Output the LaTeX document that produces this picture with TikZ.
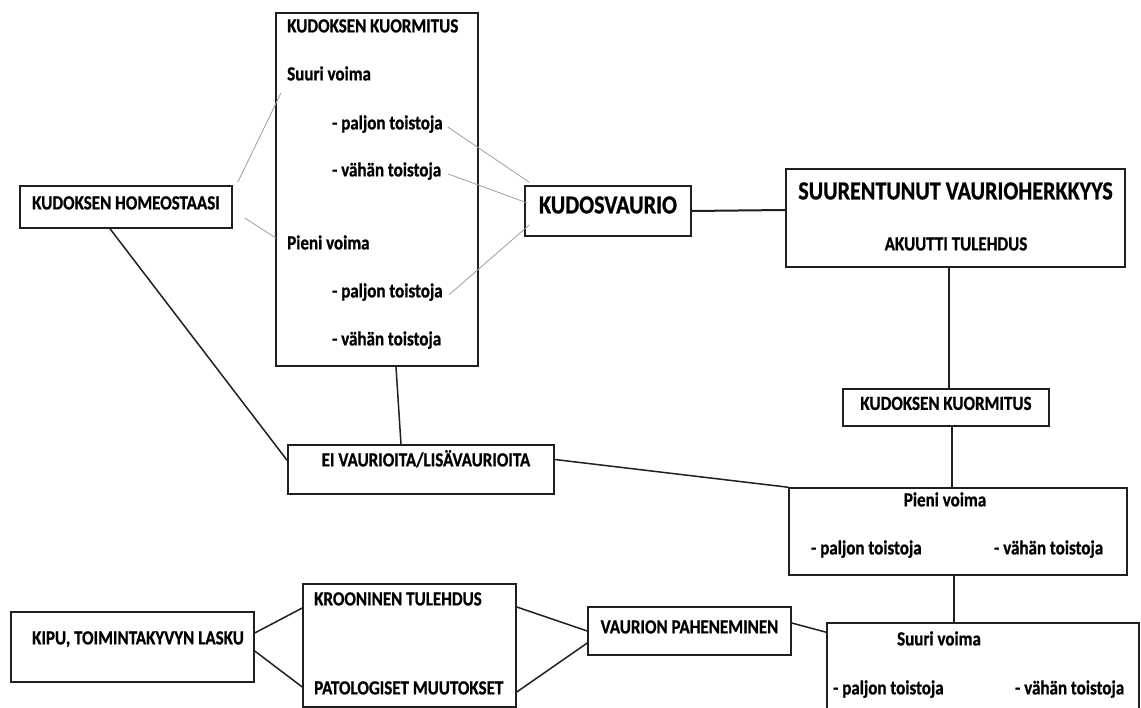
\documentclass[tikz,border=0pt]{standalone}
\usepackage{fontspec}
\setmainfont{Carlito}[FakeStretch=0.85,BoldFeatures={FakeBold=0.8}]
\definecolor{kline}{gray}{0.12}
\definecolor{kthin}{gray}{0.62}
\newcommand{\bigtxt}{\fontsize{26}{30}\selectfont}

\begin{document}
\begin{tikzpicture}[x=1pt,y=-1pt,font=\fontsize{20}{24}\selectfont\bfseries,
  box/.style 2 args={draw=kline,line width=1.5pt,inner sep=0pt,minimum width=#1pt,minimum height=#2pt,text height=0.62em,text depth=0.14em},
  txt/.style={inner sep=0pt,text height=0.62em,text depth=0.14em},
  link/.style={kline,line width=1.5pt},
  thin/.style={kthin,line width=0.8pt}]
  \useasboundingbox (0,0) rectangle (1141,708);
  \clip (0,0) rectangle (1141,708);

  % left part
  \node[box={212}{42}] (homeo) at (126,207) {KUDOKSEN HOMEOSTAASI};
  \node[box={202}{353}] (list) at (377,189.5) {};
  \node[txt,anchor=west] (listhead) at (287,30) {KUDOKSEN KUORMITUS};
  \node[txt,anchor=west] (suuri) at (287,78) {Suuri voima};
  \node[txt,anchor=west] (suuripal) at (332,127) {- paljon toistoja};
  \node[txt,anchor=west] (suurivah) at (332,174) {- vähän toistoja};
  \node[txt,anchor=west] (pieni) at (287,247) {Pieni voima};
  \node[txt,anchor=west] (pienipal) at (332,295) {- paljon toistoja};
  \node[txt,anchor=west] (pienivah) at (332,343) {- vähän toistoja};
  \node[box={166}{50},font=\bigtxt\bfseries] (vaurio) at (608,211) {KUDOSVAURIO};
  \node[box={266}{49}] (ei) at (421,469.5) {};
  \node[txt] (eitxt) at (426,464) {EI VAURIOITA/LISÄVAURIOITA};

  % right column
  \node[box={339}{98}] (herkkyys) at (955.5,218) {};
  \node[txt,font=\bigtxt\bfseries] (herkkyystxt) at (955.5,197) {SUURENTUNUT VAURIOHERKKYYS};
  \node[txt] (akuutti) at (956,248) {AKUUTTI TULEHDUS};
  \node[box={206}{37}] (kuorm) at (946,407.5) {KUDOKSEN KUORMITUS};
  \node[box={338}{87}] (pv) at (958,531.5) {};
  \node[txt] (pvhead) at (945,504) {Pieni voima};
  \node[txt,anchor=west] (pvpal) at (811,552) {- paljon toistoja};
  \node[txt,anchor=west] (pvvah) at (994,552) {- vähän toistoja};
  \node[box={312}{89}] (sv) at (983,667.5) {};
  \node[txt] (svhead) at (939,643) {Suuri voima};
  \node[txt,anchor=west] (svpal) at (833,692) {- paljon toistoja};
  \node[txt,anchor=west] (svvah) at (1015,692) {- vähän toistoja};

  % bottom row
  \node[box={203}{48}] (paheneminen) at (689.5,631) {VAURION PAHENEMINEN};
  \node[box={213}{123}] (krooninen) at (409.5,645.5) {};
  \node[txt,anchor=west] (kroontxt) at (314,603) {KROONINEN TULEHDUS};
  \node[txt,anchor=west] (patotxt) at (314,692) {PATOLOGISET MUUTOKSET};
  \node[box={243}{70}] (kipu) at (132.5,647) {};
  \node[txt] (kiputxt) at (138,642) {KIPU, TOIMINTAKYVYN LASKU};

  % thin grey links
  \draw[thin] ([xshift=5pt,yshift=3pt]homeo.north east) -- ([xshift=-6pt,yshift=-15pt]suuri.west);
  \draw[thin] ([xshift=12pt,yshift=-11pt]homeo.east) -- ([xshift=-11pt,yshift=9pt]pieni.west);
  \draw[thin] ([xshift=5pt]suuripal.east) -- ([xshift=5pt,yshift=3pt]vaurio.north west);
  \draw[thin] ([xshift=7pt]suurivah.east) -- ([xshift=3pt,yshift=8pt]vaurio.west);
  \draw[thin] ([xshift=6pt]pienipal.east) -- ([xshift=5pt,yshift=-14pt]vaurio.west);

  % black links
  \draw[link] ([xshift=-16pt]homeo.south) -- ([yshift=9pt]ei.west);
  \draw[link] ([xshift=19pt]list.south) -- ([xshift=-20pt]ei.north);
  \draw[link,line width=2pt] (vaurio.east) -- ([yshift=8pt]herkkyys.west);
  \draw[link] ([xshift=3pt]kuorm.north) -- ([xshift=3pt]kuorm.north |- herkkyys.south);
  \draw[link] ([xshift=6pt]kuorm.south) -- ([xshift=-6pt]pv.north);
  \draw[link] ([yshift=10pt]ei.east) -- (pv.north west);
  \draw[link] ([xshift=-4pt]pv.south) -- ([xshift=-29pt]sv.north);
  \draw[link] ([yshift=8pt]paheneminen.east) -- ([yshift=-10pt]sv.north west);
  \draw[link] ([yshift=38.5pt]krooninen.east) -- (paheneminen.west);
  \draw[link] ([yshift=-46.5pt]krooninen.east) -- ([yshift=-12pt]paheneminen.west);
  \draw[link] ([yshift=14pt]kipu.east) -- ([yshift=37.5pt]krooninen.west);
  \draw[link] ([yshift=-4pt]kipu.east) -- ([yshift=-41.5pt]krooninen.west);
\end{tikzpicture}
\end{document}
